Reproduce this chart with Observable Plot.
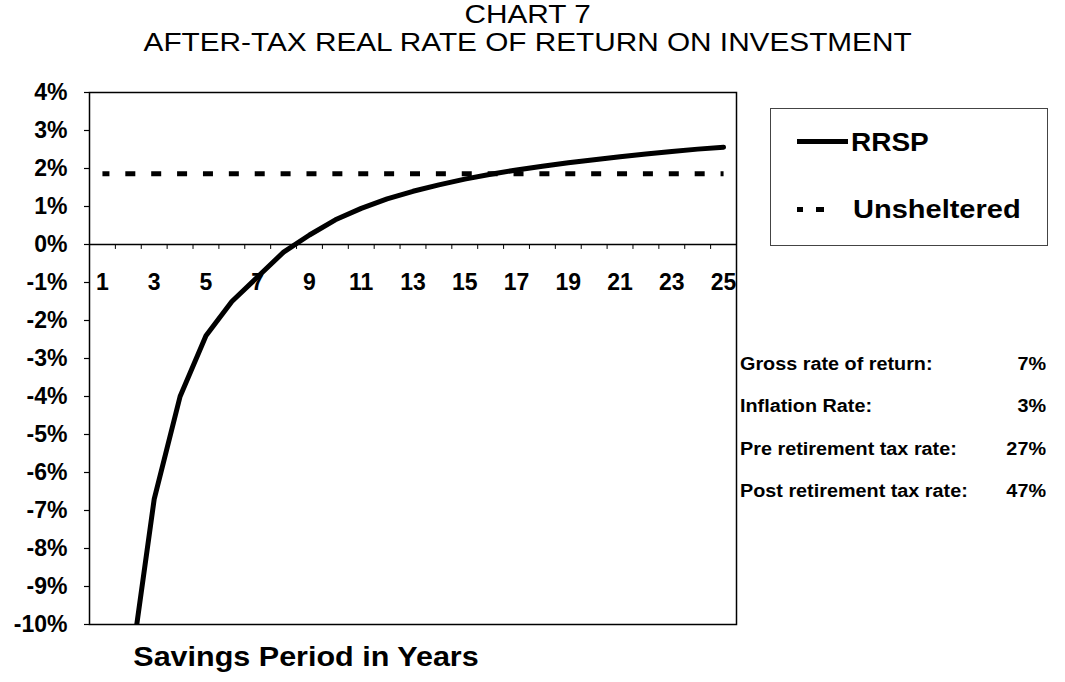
<!DOCTYPE html>
<html><head><meta charset="utf-8">
<script src="https://cdn.jsdelivr.net/npm/d3@7"></script>
<script src="https://cdn.jsdelivr.net/npm/@observablehq/plot@0.6"></script>
<style>
body{margin:0;background:#fff;}
#wrap{position:relative;width:1065px;height:682px;font-family:Arial,"Liberation Sans",sans-serif;color:#000;overflow:hidden;}
#wrap svg{position:absolute;left:0;top:0;}
.t{position:absolute;white-space:nowrap;line-height:1;}
</style></head><body><div id="wrap"></div>
<script>
// ---- data ----
const years = [1,2,3,4,5,6,7,8,9,10,11,12,13,14,15,16,17,18,19,20,21,22,23,24,25];
const rrsp = [-24.6,-11.6,-6.7,-4.0,-2.4,-1.5,-0.85,-0.2,0.25,0.65,0.95,1.2,1.4,1.57,1.72,1.85,1.96,2.06,2.15,2.23,2.31,2.38,2.45,2.51,2.56];
const unsheltered = [1.86,1.86,1.86,1.86,1.86,1.86,1.86,1.86,1.86,1.86,1.86,1.86,1.86,1.86,1.86,1.86,1.86,1.86,1.86,1.86,1.86,1.86,1.86,1.86,1.86];
const yTicks = [4,3,2,1,0,-1,-2,-3,-4,-5,-6,-7,-8,-9,-10];
const xLabels = [1,3,5,7,9,11,13,15,17,19,21,23,25];
const seriesNames = ["RRSP","Unsheltered"];
const assumptionLabels = ["Gross rate of return:","Inflation Rate:","Pre retirement tax rate:","Post retirement tax rate:"];
const assumptionValues = ["7%","3%","27%","47%"];
const titleLines = ["CHART 7","AFTER-TAX REAL RATE OF RETURN ON INVESTMENT"];
const xTitle = "Savings Period in Years";

// ---- layout ----
const W = 1065, H = 682;
const mL = 89, mR = W - 736, mT = 92, mB = H - 624;
const step = (W - mL - mR) / years.length;
const data = years.map((y, i) => ({year: y, rrsp: rrsp[i], uns: unsheltered[i]}));
const bounds = [0.5].concat(years.map(y => y + 0.5));
const FONT = 'Arial, "Liberation Sans", sans-serif';

const chart = Plot.plot({
  width: W, height: H,
  marginLeft: mL, marginRight: mR, marginTop: mT, marginBottom: mB,
  x: {domain: [0.5, years.length + 0.5], axis: null},
  y: {domain: [-10, 4], axis: null},
  style: {fontFamily: FONT, background: "transparent", color: "#000"},
  marks: [
    Plot.frame({stroke: "#000", strokeWidth: 1.5}),
    Plot.axisY({ticks: yTicks, tickFormat: d => d + "%", tickSize: 5, tickPadding: 17,
      fontSize: 23, fontWeight: "bold", stroke: "#000", strokeWidth: 1.2}),
    Plot.ruleY([0], {stroke: "#000", strokeWidth: 1.5}),
    Plot.ruleX(bounds, {x: d => d, y1: 0, y2: -0.13, stroke: "#000", strokeWidth: 1}),
    Plot.text(xLabels, {x: d => d, y: -1, text: d => String(d), fontSize: 23, fontWeight: "bold", fill: "#000"}),
    Plot.line(data, {x: "year", y: "uns", stroke: "#000", strokeWidth: 5,
      strokeLinecap: "butt", strokeDasharray: `10 ${step - 10}`, strokeDashoffset: 3}),
    Plot.line(data, {x: "year", y: "rrsp", stroke: "#000", strokeWidth: 5, clip: true})
  ]
});

const wrap = document.getElementById("wrap");
wrap.appendChild(chart);

function addText(txt, css) {
  const d = document.createElement("div");
  d.className = "t";
  d.textContent = txt;
  Object.assign(d.style, css);
  wrap.appendChild(d);
  return d;
}
function addBox(css) {
  const d = document.createElement("div");
  d.style.position = "absolute";
  Object.assign(d.style, css);
  wrap.appendChild(d);
  return d;
}

// title
addText(titleLines[0], {left: "0px", width: "1055px", textAlign: "center", top: "0px", fontSize: "25px", lineHeight: "normal", transform: "scaleX(1.19)", transformOrigin: "527px 0"});
addText(titleLines[1], {left: "0px", width: "1055px", textAlign: "center", top: "28px", fontSize: "25px", lineHeight: "normal", transform: "scaleX(1.19)", transformOrigin: "527px 0"});

// x title
addText(xTitle, {left: "106px", width: "400px", textAlign: "center", top: "644px", fontSize: "27px", fontWeight: "bold", transform: "scaleX(1.13)", transformOrigin: "200px 0"});

// legend
addBox({left: "770px", top: "108px", width: "278px", height: "138px", border: "1px solid #444", boxSizing: "border-box"});
addBox({left: "797px", top: "139px", width: "51px", height: "5px", background: "#000"});
addText(seriesNames[0], {left: "851px", top: "130px", fontSize: "25px", fontWeight: "bold", transform: "scaleX(1.12)", transformOrigin: "0 0"});
addBox({left: "797px", top: "207px", width: "6px", height: "5px", background: "#000"});
addBox({left: "816px", top: "207px", width: "8px", height: "5px", background: "#000"});
addText(seriesNames[1], {left: "853px", top: "197px", fontSize: "25px", fontWeight: "bold", transform: "scaleX(1.16)", transformOrigin: "0 0"});

// assumptions
const rowTops = [355, 397, 440, 482];
assumptionLabels.forEach((s, i) => {
  addText(s, {left: "740px", top: rowTops[i] + "px", fontSize: "18px", fontWeight: "bold", transform: "scaleX(1.1)", transformOrigin: "0 0"});
  addText(assumptionValues[i], {left: "960px", width: "86px", textAlign: "right", top: rowTops[i] + "px", fontSize: "18px", fontWeight: "bold", transform: "scaleX(1.1)", transformOrigin: "86px 0"});
});
</script>
</body></html>
